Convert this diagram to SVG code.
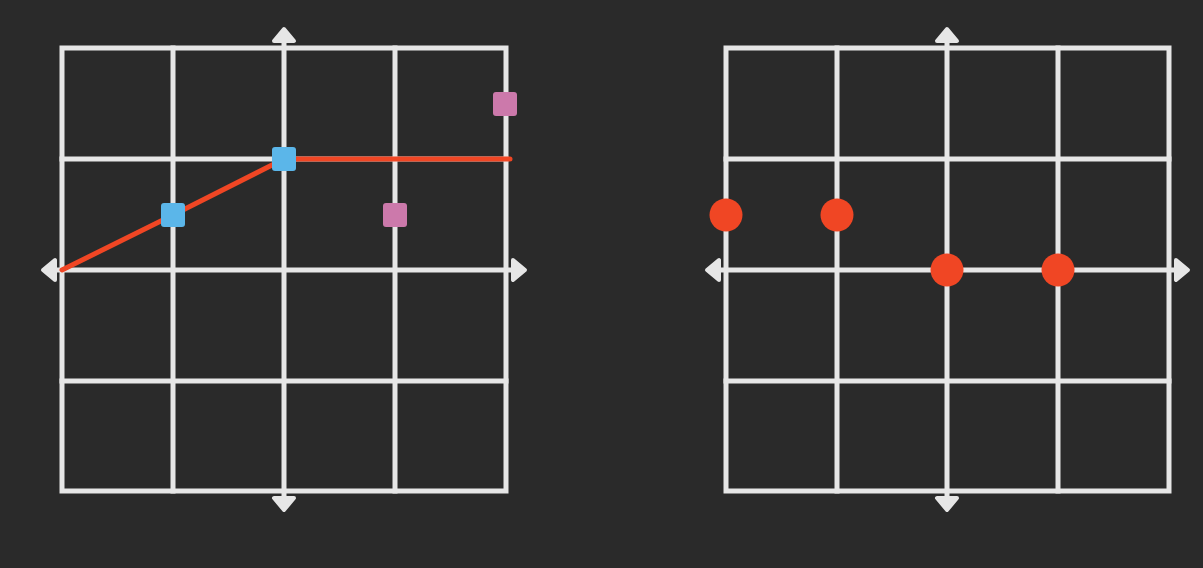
<svg xmlns="http://www.w3.org/2000/svg" width="1203" height="568" viewBox="0 0 1203 568">
<style>
.g{stroke:#e6e6e6;stroke-width:5;fill:none;stroke-linecap:square}
.ah{fill:#e6e6e6;stroke:#e6e6e6;stroke-width:4;stroke-linejoin:round}
.red{stroke:#f04624;stroke-width:5;fill:none;stroke-linecap:round;stroke-linejoin:round}
.blue{fill:#5bb6e9}
.pink{fill:#cc79ab}
.dot{fill:#f04624}
</style>
<defs>
<path id="arr" d="M0,2 L10,14 L-10,14 Z"/>
</defs>
<rect width="1203" height="568" fill="#2a2a2a"/>
<g id="left-grid">
<rect class="g" x="62" y="48" width="444" height="443"/>
<path class="g" d="M173,48V491M395,48V491M62,159H506M62,381H506"/>
<path class="g" style="stroke-linecap:butt" d="M284,38V501M52,270H516"/>
<use href="#arr" class="ah" transform="translate(284,27)"/>
<use href="#arr" class="ah" transform="translate(284,512) rotate(180)"/>
<use href="#arr" class="ah" transform="translate(41,270) rotate(-90)"/>
<use href="#arr" class="ah" transform="translate(527,270) rotate(90)"/>
</g>
<g id="right-grid">
<rect class="g" x="726" y="48" width="443" height="443"/>
<path class="g" d="M837,48V491M1058,48V491M726,159H1169M726,381H1169"/>
<path class="g" style="stroke-linecap:butt" d="M947,38V501M716,270H1179"/>
<use href="#arr" class="ah" transform="translate(947,27)"/>
<use href="#arr" class="ah" transform="translate(947,512) rotate(180)"/>
<use href="#arr" class="ah" transform="translate(705,270) rotate(-90)"/>
<use href="#arr" class="ah" transform="translate(1190,270) rotate(90)"/>
</g>
<g id="connectors">
<polyline class="red" points="62,270 173,215 284,159 510,159"/>
</g>
<g id="node-b1"><rect class="blue" x="161" y="203" width="24" height="24" rx="3"/></g>
<g id="node-b2"><rect class="blue" x="272" y="147" width="24" height="24" rx="3"/></g>
<g id="node-p1"><rect class="pink" x="383" y="203" width="24" height="24" rx="3"/></g>
<g id="node-p2"><rect class="pink" x="493" y="92" width="24" height="24" rx="3"/></g>
<g id="node-d1"><circle class="dot" cx="726" cy="215" r="16.5"/></g>
<g id="node-d2"><circle class="dot" cx="837" cy="215" r="16.5"/></g>
<g id="node-d3"><circle class="dot" cx="947" cy="270" r="16.5"/></g>
<g id="node-d4"><circle class="dot" cx="1058" cy="270" r="16.5"/></g>
</svg>
